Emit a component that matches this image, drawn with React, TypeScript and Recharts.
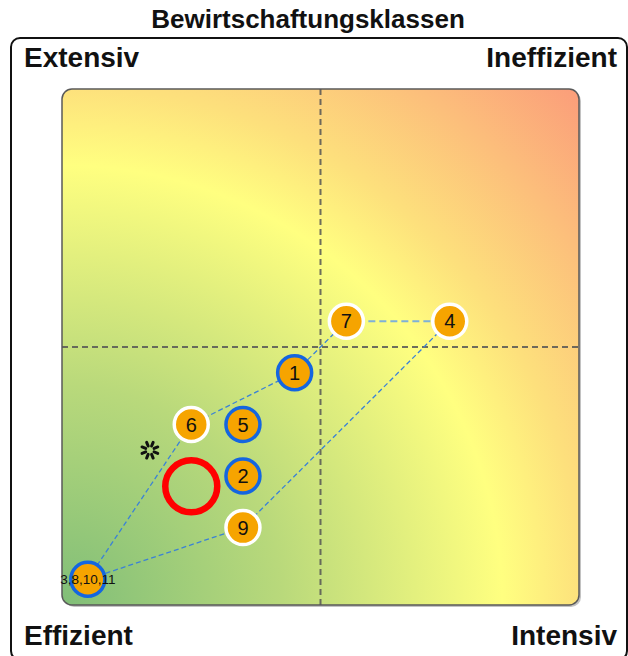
import React from 'react';
import {
  ScatterChart,
  Scatter,
  XAxis,
  YAxis,
  ReferenceLine,
  ReferenceArea,
} from 'recharts';

const W = 628;
const H = 656;
const FONT = '"Liberation Sans", Arial, sans-serif';

const pointLabels = ['1', '2', '3,8,10,11', '4', '5', '6', '7', '9'];
const pointX = [4.5, 3.5, 0.5, 7.5, 3.5, 2.5, 5.5, 3.5];
const pointY = [4.5, 2.5, 0.5, 5.5, 3.5, 3.5, 5.5, 1.5];
const pointRing = ['blue', 'blue', 'blue', 'white', 'blue', 'white', 'white', 'white'];

// hull drawn between the points, in drawing order
const hullOrder = ['4', '9', '3,8,10,11', '6', '1', '7'];
const topEdge = ['7', '4'];

const targetPoint = [{ x: 2.5, y: 2.3 }];
const refPoint = [{ x: 1.7, y: 3.0 }];

const corners = ['Extensiv', 'Ineffizient', 'Effizient', 'Intensiv'];

const ORANGE = '#f6a400';
const BLUE = '#1466e0';

const points = pointLabels.map((label, i) => ({
  label,
  x: pointX[i],
  y: pointY[i],
  ring: pointRing[i],
}));
const byLabel = (l: string) => points.find((p) => p.label === l)!;
const hullData = hullOrder.map(byLabel);
const topData = topEdge.map(byLabel);

function Marker(props: any) {
  const { cx, cy, payload } = props;
  const small = payload.label.length > 2;
  return (
    <g>
      <circle
        cx={cx}
        cy={cy}
        r={17}
        fill={ORANGE}
        stroke={payload.ring === 'blue' ? BLUE : '#ffffff'}
        strokeWidth={3.5}
      />
      <text
        x={cx}
        y={cy}
        dy={small ? 5 : 7.2}
        textAnchor="middle"
        fontFamily={FONT}
        fontSize={small ? 13.5 : 20}
        fill="#111"
      >
        {payload.label}
      </text>
    </g>
  );
}

function Ring(props: any) {
  const { cx, cy } = props;
  return <circle cx={cx} cy={cy} r={26} fill="none" stroke="#ff0000" strokeWidth={6.5} />;
}

function Spark(props: any) {
  const { cx, cy } = props;
  const rays = [0, 1, 2, 3, 4, 5, 6, 7];
  return (
    <g>
      {rays.map((k) => {
        const a = (k * Math.PI) / 4 + Math.PI / 8;
        return (
          <line
            key={k}
            x1={cx + Math.cos(a) * 4.5}
            y1={cy + Math.sin(a) * 4.5}
            x2={cx + Math.cos(a) * 8.5}
            y2={cy + Math.sin(a) * 8.5}
            stroke="#111"
            strokeWidth={3}
            strokeLinecap="round"
          />
        );
      })}
    </g>
  );
}

function Background(props: any) {
  const { x, y, width, height } = props;
  return (
    <g>
      <rect x={x + 2} y={y + 2} width={width} height={height} rx={10} fill="#9a9a9a" opacity={0.6} />
      <rect
        x={x}
        y={y}
        width={width}
        height={height}
        rx={10}
        fill="url(#bgGrad)"
        stroke="#5a5a5a"
        strokeWidth={1.5}
      />
    </g>
  );
}

const labelStyle: React.CSSProperties = {
  position: 'absolute',
  fontFamily: FONT,
  fontWeight: 'bold',
  fontSize: 28,
  color: '#111',
  lineHeight: '28px',
  whiteSpace: 'nowrap',
};

export default function App() {
  return (
    <div style={{ position: 'absolute', left: 0, top: 0, width: W, height: H, background: '#fff' }}>
      <div
        style={{
          ...labelStyle,
          left: 0,
          width: W - 12,
          top: 6,
          textAlign: 'center',
          fontSize: 26,
          lineHeight: '26px',
        }}
      >
        Bewirtschaftungsklassen
      </div>
      <div
        style={{
          position: 'absolute',
          left: 10,
          top: 37,
          width: 614,
          height: 620,
          border: '2px solid #111',
          borderRadius: 10,
        }}
      />
      <div style={{ ...labelStyle, left: 24, top: 44 }}>{corners[0]}</div>
      <div style={{ ...labelStyle, right: 11, top: 44 }}>{corners[1]}</div>
      <div style={{ ...labelStyle, left: 24, top: 622 }}>{corners[2]}</div>
      <div style={{ ...labelStyle, right: 11, top: 622 }}>{corners[3]}</div>
      <div style={{ position: 'absolute', left: 0, top: 0 }}>
        <ScatterChart width={W} height={H} margin={{ top: 89, right: 49, bottom: 51, left: 62 }}>
          <defs>
            <radialGradient id="bgGrad" cx="0" cy="1" r="1.42" gradientUnits="objectBoundingBox">
              <stop offset="0" stopColor="#80be78" />
              <stop offset="0.3" stopColor="#b9d97b" />
              <stop offset="0.6" stopColor="#ffff80" />
              <stop offset="0.71" stopColor="#fde07c" />
              <stop offset="1" stopColor="#fb9c7a" />
            </radialGradient>
          </defs>
          <XAxis type="number" dataKey="x" domain={[0, 10]} hide />
          <YAxis type="number" dataKey="y" domain={[0, 10]} hide />
          <ReferenceArea x1={0} x2={10} y1={0} y2={10} shape={<Background />} />
          <ReferenceLine x={5} stroke="#555" strokeOpacity={0.85} strokeWidth={2} strokeDasharray="6 4" />
          <ReferenceLine y={5} stroke="#555" strokeOpacity={0.85} strokeWidth={2} strokeDasharray="6 4" />
          <Scatter
            data={topData}
            line={{ stroke: '#7eb0d8', strokeWidth: 2, strokeDasharray: '7 4' }}
            shape={() => null}
            isAnimationActive={false}
          />
          <Scatter
            data={hullData}
            line={{ stroke: '#3b82d6', strokeWidth: 1.3, strokeDasharray: '5 3' }}
            shape={() => null}
            isAnimationActive={false}
          />
          <Scatter data={refPoint} shape={<Spark />} isAnimationActive={false} />
          <Scatter data={targetPoint} shape={<Ring />} isAnimationActive={false} />
          <Scatter data={points} shape={<Marker />} isAnimationActive={false} />
        </ScatterChart>
      </div>
    </div>
  );
}
